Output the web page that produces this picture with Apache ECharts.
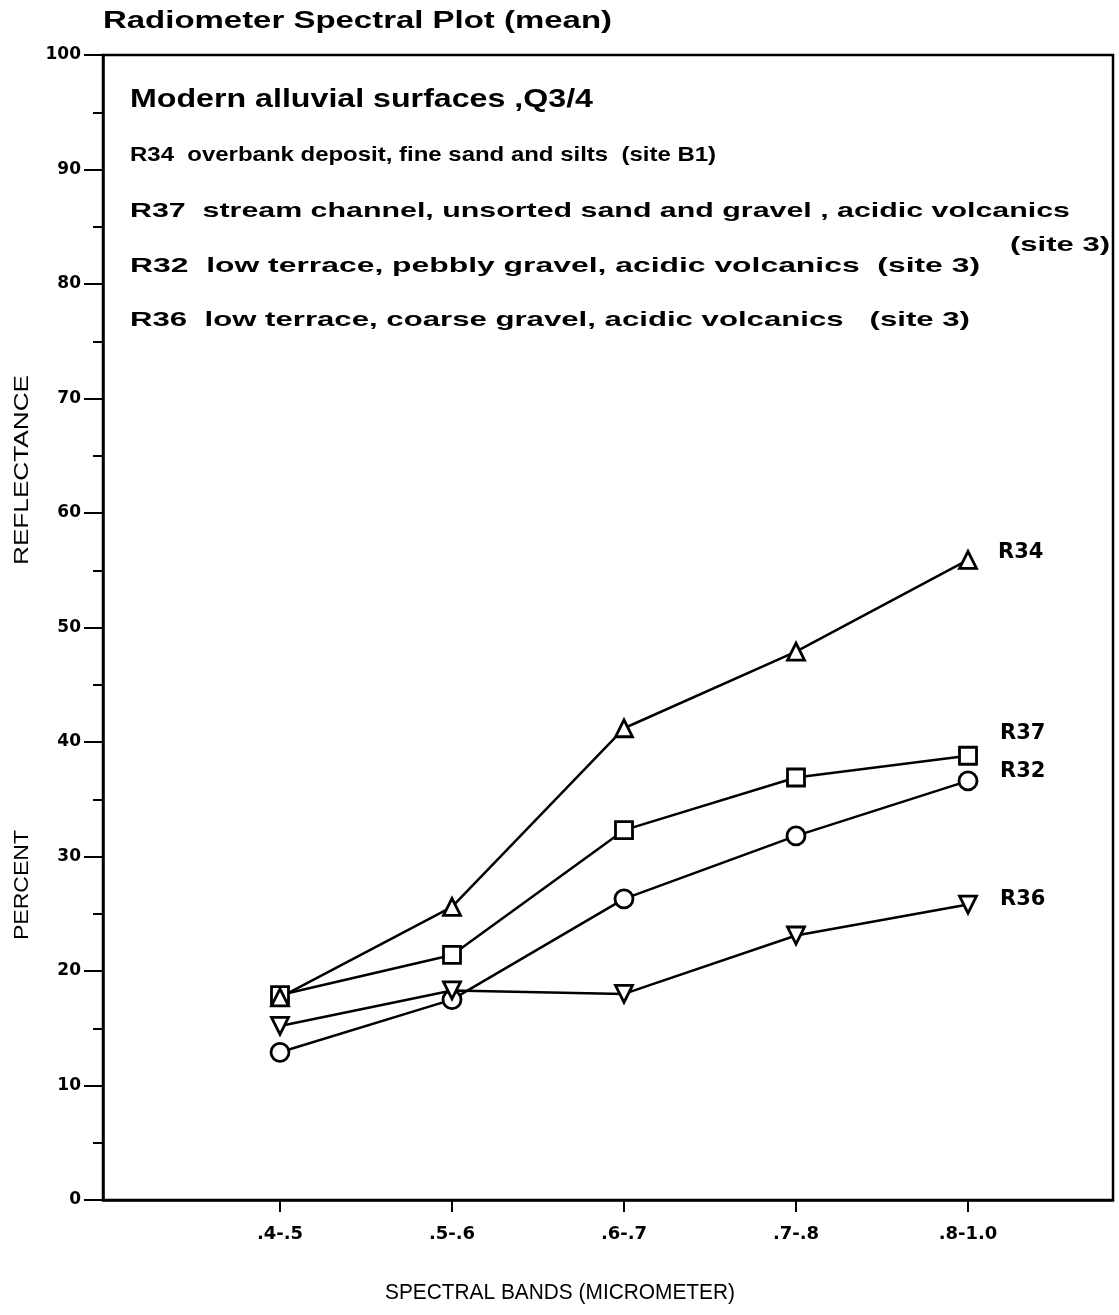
<!DOCTYPE html>
<html>
<head>
<meta charset="utf-8">
<script src="https://cdn.jsdelivr.net/npm/echarts@6/dist/echarts.min.js"></script>
<style>html,body{margin:0;padding:0;background:#fff}#c{width:1119px;height:1315px}</style>
</head>
<body>
<div id="c"></div>
<script>
// ---- data ----
var bands = ['.4-.5', '.5-.6', '.6-.7', '.7-.8', '.8-1.0'];
var bandPos = [1, 2, 3, 4, 5];
var R34 = [17.7, 25.6, 41.2, 47.9, 55.9];
var R37 = [17.9, 21.4, 32.3, 36.9, 38.8];
var R32 = [12.9, 17.5, 26.3, 31.8, 36.6];
var R36 = [15.2, 18.3, 18.0, 23.1, 25.8];
var yTicks = [0, 10, 20, 30, 40, 50, 60, 70, 80, 90, 100];

var titleText = 'Radiometer Spectral Plot (mean)';
var boxTitle = 'Modern alluvial surfaces ,Q3/4';
var descLines = [
  'R34  overbank deposit, fine sand and silts  (site B1)',
  'R37  stream channel, unsorted sand and gravel , acidic volcanics',
  'R32  low terrace, pebbly gravel, acidic volcanics  (site 3)',
  'R36  low terrace, coarse gravel, acidic volcanics   (site 3)'
];
var site3Text = '(site 3)';
var xName = 'SPECTRAL BANDS (MICROMETER)';
var yNameTop = 'REFLECTANCE';
var yNameBottom = 'PERCENT';

var FF = '"Liberation Sans", Arial, sans-serif';
var DV = '"DejaVu Sans", sans-serif';
var cv = document.createElement('canvas').getContext('2d');
function fit(text, weight, size, family, target) {
  cv.font = weight + ' ' + size + 'px ' + family;
  return target / cv.measureText(text).width;
}
function txt(text, x, y, weight, size, family, target, align, rot) {
  return {
    type: 'text', x: x, y: y, scaleX: fit(text, weight, size, family, target),
    rotation: rot || 0,
    style: { text: text, fontFamily: family, fontWeight: weight, fontSize: size, fill: '#000',
             textAlign: align || 'left', textVerticalAlign: 'middle' }
  };
}

function mk(name, data, symbol, size, rot, off) {
  return {
    name: name, type: 'line',
    data: data.map(function (v, i) { return [bandPos[i], v]; }),
    symbol: symbol, symbolSize: size, symbolRotate: rot,
    showAllSymbol: true,
    lineStyle: { color: '#000', width: 2.5 },
    itemStyle: { color: '#fff', borderColor: '#000', borderWidth: 2.8 },
    emphasis: { disabled: true },
    endLabel: {
      show: true, formatter: name, offset: off,
      fontFamily: DV, fontWeight: 'bold', fontSize: 21, color: '#000'
    },
    z: 3
  };
}

var chart = echarts.init(document.getElementById('c'), null, { renderer: 'canvas' });
var descY = [155, 211, 266, 320];
var descW = [586, 940, 850, 840];
var graphics = [
  txt(titleText, 103, 22, 'bold', 23, FF, 509),
  txt(boxTitle, 130, 100, 'bold', 26, FF, 463),
  txt(site3Text, 1010, 245, 'bold', 21, FF, 100),
  txt(xName, 385, 1293, 'normal', 22, FF, 350),
  txt(yNameTop, 22, 470, 'normal', 21, FF, 190, 'center', Math.PI / 2),
  txt(yNameBottom, 22, 885, 'normal', 21, FF, 110, 'center', Math.PI / 2)
];
descLines.forEach(function (t, i) {
  graphics.push(txt(t, 130, descY[i], 'bold', 21, FF, descW[i]));
});

chart.setOption({
  animation: false,
  backgroundColor: '#fff',
  grid: { left: 103, right: 6, top: 55, bottom: 115, containLabel: false, outerBoundsMode: 'none',
          show: true, borderColor: '#000', borderWidth: 2.5, backgroundColor: 'transparent' },
  xAxis: {
    type: 'value', min: -0.029, max: 5.843,
    axisLine: { show: true, onZero: false, lineStyle: { color: '#000', width: 2.5 } },
    axisTick: { show: true, customValues: bandPos, length: 12, lineStyle: { color: '#000', width: 2 } },
    axisLabel: {
      customValues: bandPos, margin: 25,
      formatter: function (v) { return bands[bandPos.indexOf(Math.round(v))] || ''; },
      fontFamily: DV, fontWeight: 'bold', fontSize: 18, color: '#000'
    },
    splitLine: { show: false }
  },
  yAxis: {
    type: 'value', min: 0, max: 100, interval: 10,
    axisLine: { show: true, onZero: false, lineStyle: { color: '#000', width: 2.5 } },
    axisTick: { show: true, length: 19, lineStyle: { color: '#000', width: 2 } },
    minorTick: { show: true, splitNumber: 2, length: 10, lineStyle: { color: '#000', width: 2 } },
    axisLabel: {
      margin: 22, fontFamily: DV, fontWeight: 'bold', fontSize: 17, color: '#000',
      formatter: function (v) { return yTicks.indexOf(v) >= 0 ? String(v) : ''; }
    },
    splitLine: { show: false }
  },
  graphic: graphics,
  series: [
    mk('R37', R37, 'rect', 17, 0, [24, -22]),
    mk('R34', R34, 'triangle', 17, 0, [22, -7]),
    mk('R32', R32, 'circle', 18, 0, [24, -9]),
    mk('R36', R36, 'triangle', 17, 180, [24, -5])
  ]
});
</script>
</body>
</html>
